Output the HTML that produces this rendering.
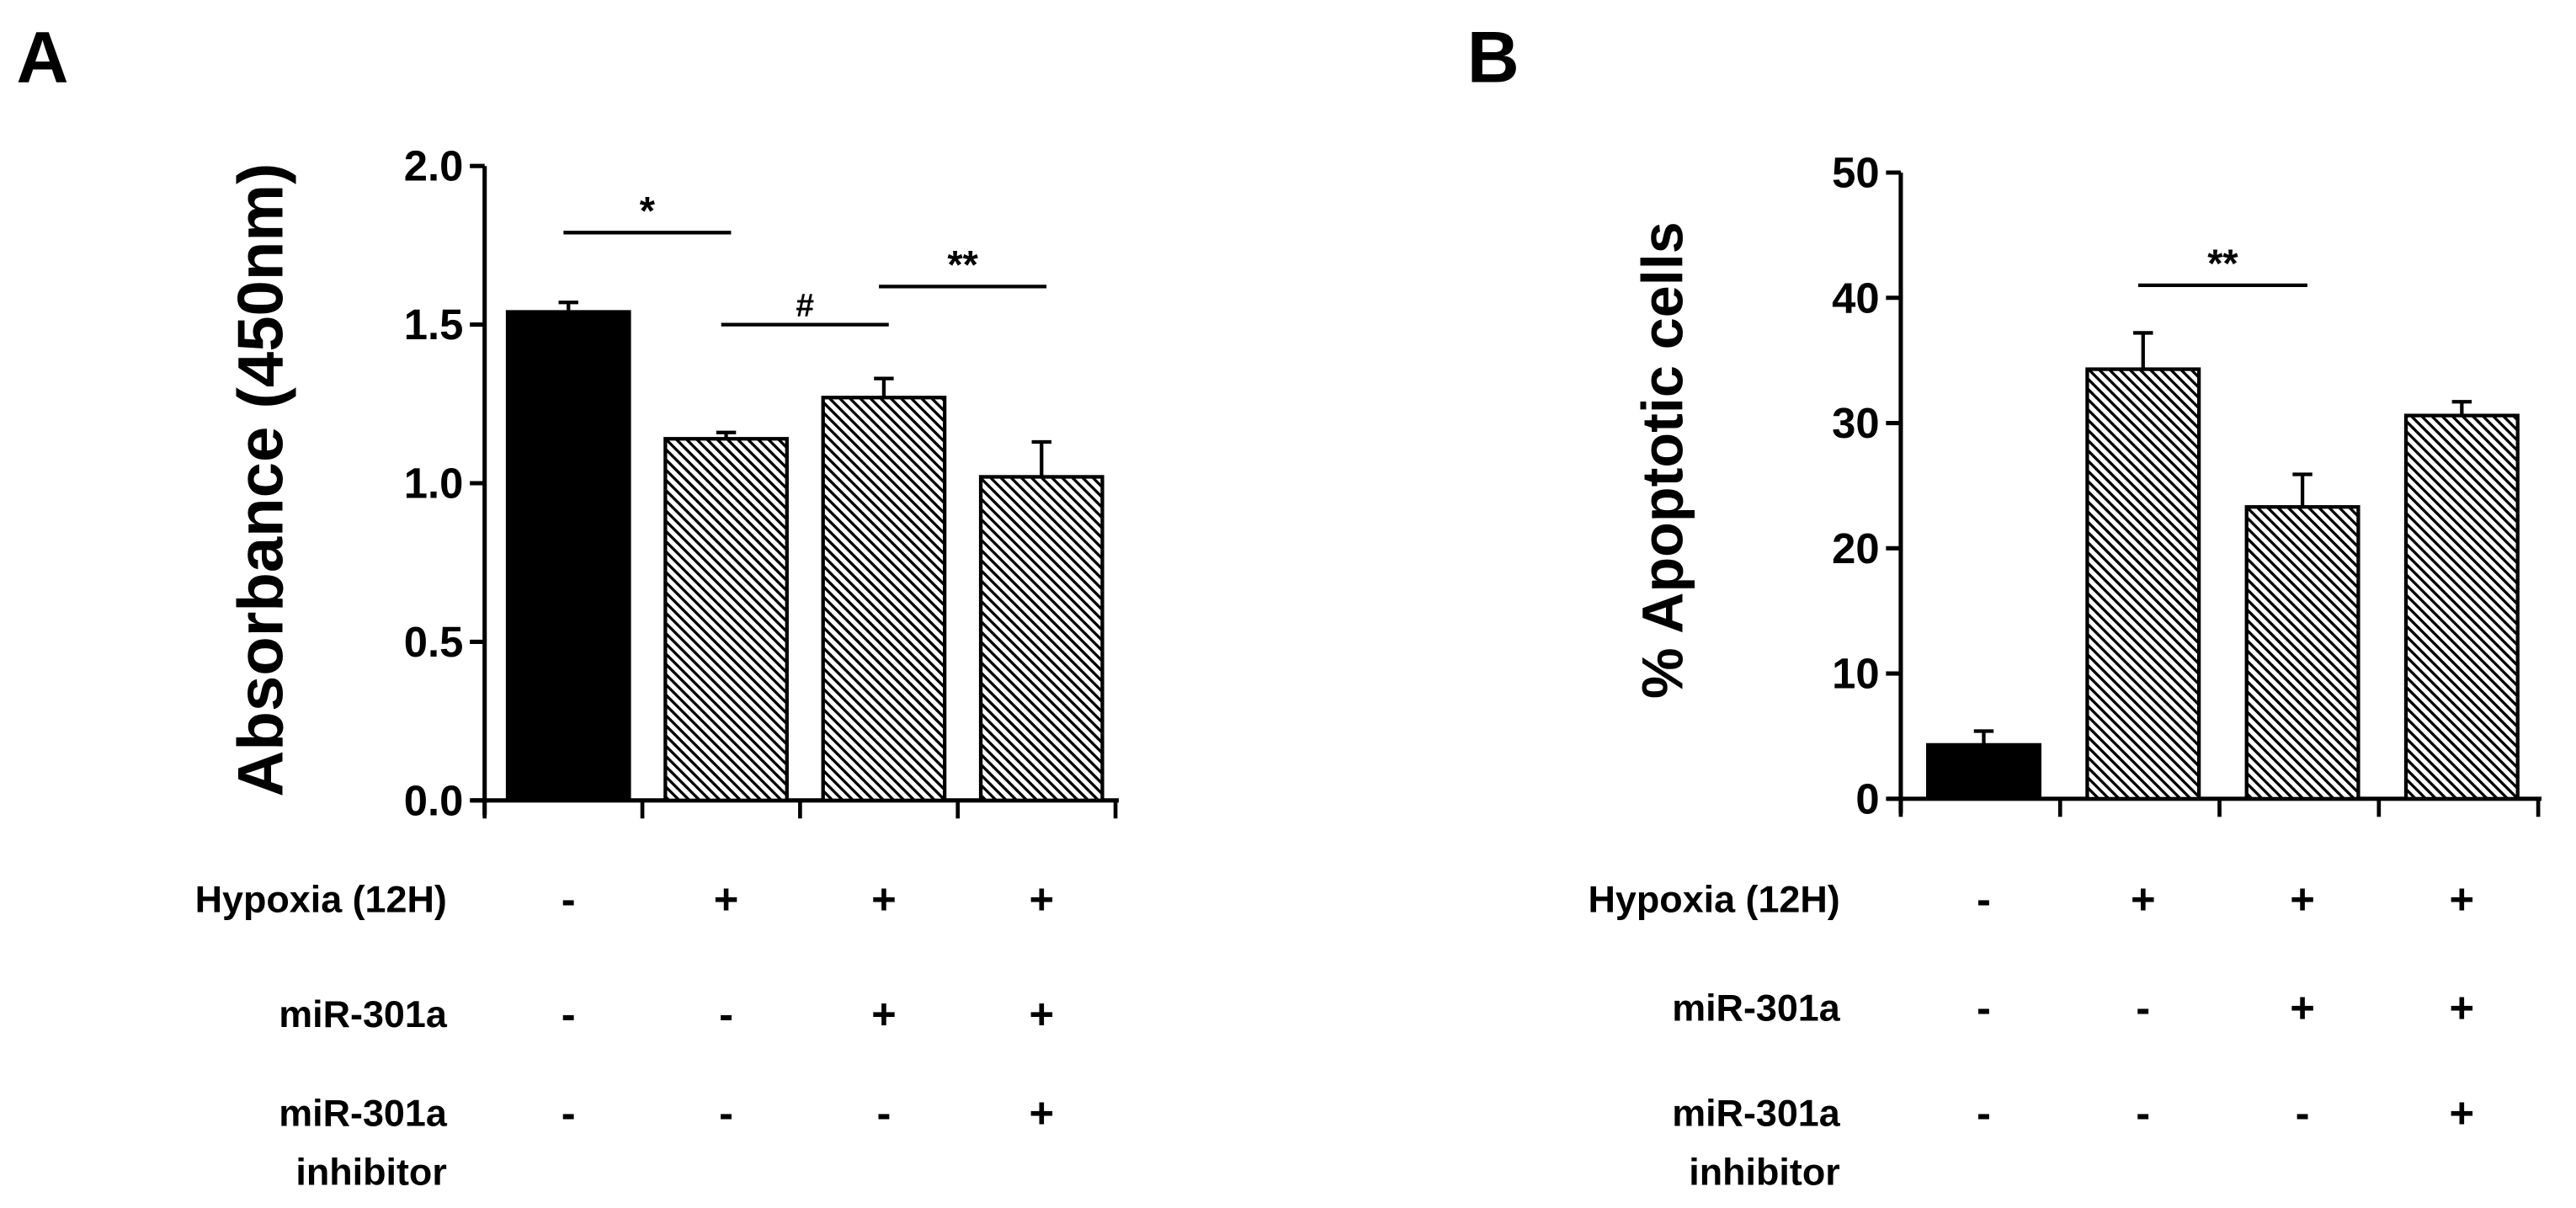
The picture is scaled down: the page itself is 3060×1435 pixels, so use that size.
<!DOCTYPE html>
<html><head><meta charset="utf-8"><style>
html,body{margin:0;padding:0;background:#fff;}
svg{display:block;}
text{font-family:"Liberation Sans Narrow","Liberation Sans",sans-serif;font-weight:bold;fill:#000;}
</style></head><body>
<svg id="fig" width="3060" height="1435" viewBox="0 0 1568 735" preserveAspectRatio="none">
<defs>
<pattern id="hatch" patternUnits="userSpaceOnUse" width="4.4" height="4.4" patternTransform="rotate(-45)">
<rect width="4.4" height="4.4" fill="#fff"/>
<rect x="0" y="0" width="1.7" height="4.4" fill="#000"/>
</pattern>
</defs>
<g id="gA"></g>
<g id="gB"></g>
</svg>
<script>
const categories = ["control","hypoxia","hypoxia-mir301a","hypoxia-mir301a-inhibitor"];
const absorbance = [1.54, 1.14, 1.27, 1.02];
const absorbanceErr = [0.03, 0.02, 0.06, 0.11];
const apoptotic = [4.3, 34.3, 23.3, 30.6];
const apoptoticErr = [1.1, 2.9, 2.6, 1.1];
const ticksA = ["0.0","0.5","1.0","1.5","2.0"];
const ticksB = ["0","10","20","30","40","50"];
const hypoxiaRow = ["-","+","+","+"];
const mirRow = ["-","-","+","+"];
const inhibRow = ["-","-","-","+"];
const sigA = [{from:0,to:1,val:1.79,label:"*"},{from:1,to:2,val:1.50,label:"#"},{from:2,to:3,val:1.62,label:"**"}];
const sigB = [{from:1,to:2,val:41,label:"**"}];

const NS="http://www.w3.org/2000/svg";
function mk(parent,tag,attrs,txt){const e=document.createElementNS(NS,tag);for(const k in attrs)e.setAttribute(k,attrs[k]);if(txt!==undefined)e.textContent=txt;parent.appendChild(e);return e;}

function panel(g,cfg){
  const x0=cfg.x0, step=cfg.step, base=cfg.base, top=cfg.top, max=cfg.max;
  const y=v=>base-(v/max)*(base-top);
  const cx=i=>x0+step*(i+0.5);
  let ax=mk(g,'line',{x1:x0,y1:top,x2:x0,y2:base+9,stroke:'#000','stroke-width':2.6});
  
  let bx=mk(g,'line',{x1:x0-8,y1:base,x2:x0+step*categories.length+2,y2:base,stroke:'#000','stroke-width':2.6});
  
  for(let i=0;i<=categories.length;i++){
    let t=mk(g,'line',{x1:x0+step*i,y1:base,x2:x0+step*i,y2:base+11,stroke:'#000','stroke-width':2.4});
    
  }
  cfg.ticks.forEach(l=>{
    const v=parseFloat(l);
    let t=mk(g,'line',{x1:x0-9,y1:y(v),x2:x0,y2:y(v),stroke:'#000','stroke-width':2.6});
    
    let tl=mk(g,'text',{x:x0-13,y:y(v)+9,'text-anchor':'end','font-size':26},l);
    
  });
  cfg.vals.forEach((v,i)=>{
    const bw=cfg.bw, bx0=cx(i)-bw/2+cfg.off;
    const e=cfg.errs[i];
    let el=mk(g,'line',{x1:cx(i)+cfg.off,y1:y(v),x2:cx(i)+cfg.off,y2:y(v+e),stroke:'#000','stroke-width':2.2});
    
    let ec=mk(g,'line',{x1:cx(i)+cfg.off-6,y1:y(v+e),x2:cx(i)+cfg.off+6,y2:y(v+e),stroke:'#000','stroke-width':2.2});
    
    let r=mk(g,'rect',{x:bx0,y:y(v),width:bw,height:base-y(v),fill:i===0?'#000':'url(#hatch)',stroke:'#000','stroke-width':2.2});
    
  });
  cfg.sig.forEach(s=>{
    const xa=cx(s.from)+cfg.off-3, xb=cx(s.to)+cfg.off+3;
    let l=mk(g,'line',{x1:xa,y1:y(s.val),x2:xb,y2:y(s.val),stroke:'#000','stroke-width':2.2});
    
    let t=mk(g,'text',{x:(xa+xb)/2,y:y(s.val)-5,'text-anchor':'middle','font-size':s.label==='#'?20:24,'font-weight':'normal'},s.label);
    
  });
  let yt=mk(g,'text',{x:0,y:0,'text-anchor':'middle','font-size':cfg.titleSize,'font-family':'Liberation Sans, sans-serif',transform:`translate(${cfg.titleX},${cfg.titleY}) rotate(-90)`},cfg.title);
  
  let pl=mk(g,'text',{x:cfg.letterX,y:50,'font-size':44},cfg.letter);
  
  const rows=[[hypoxiaRow,cfg.rowY[0],"Hypoxia (12H)"],[mirRow,cfg.rowY[1],"miR-301a"],[inhibRow,cfg.rowY[2],"miR-301a"]];
  rows.forEach(([arr,ry,lab])=>{
    let t=mk(g,'text',{x:cfg.labX,y:ry+8,'text-anchor':'end','font-size':23},lab);
    
    arr.forEach((s,i)=>{
      let st=mk(g,'text',{x:cx(i)+cfg.off,y:ry+9,'text-anchor':'middle','font-size':26},s);
      
    });
  });
  let inh=mk(g,'text',{x:cfg.labX,y:cfg.rowY[2]+44,'text-anchor':'end','font-size':23},"inhibitor");
  
}

panel(document.getElementById('gA'),{x0:295,step:96,base:487,top:101,max:2.0,bw:74,off:3,vals:absorbance,errs:absorbanceErr,ticks:ticksA,sig:sigA,title:"Absorbance (450nm)",titleX:172,titleY:292,titleSize:39,letter:"A",letterX:10,rowY:[547,617,677],labX:272});
panel(document.getElementById('gB'),{x0:1157,step:97,base:486,top:105,max:50,bw:68,off:2,vals:apoptotic,errs:apoptoticErr,ticks:ticksB,sig:sigB,title:"% Apoptotic cells",titleX:1024,titleY:280,titleSize:35,letter:"B",letterX:893,rowY:[547,613,677],labX:1120});
</script>
</body></html>
